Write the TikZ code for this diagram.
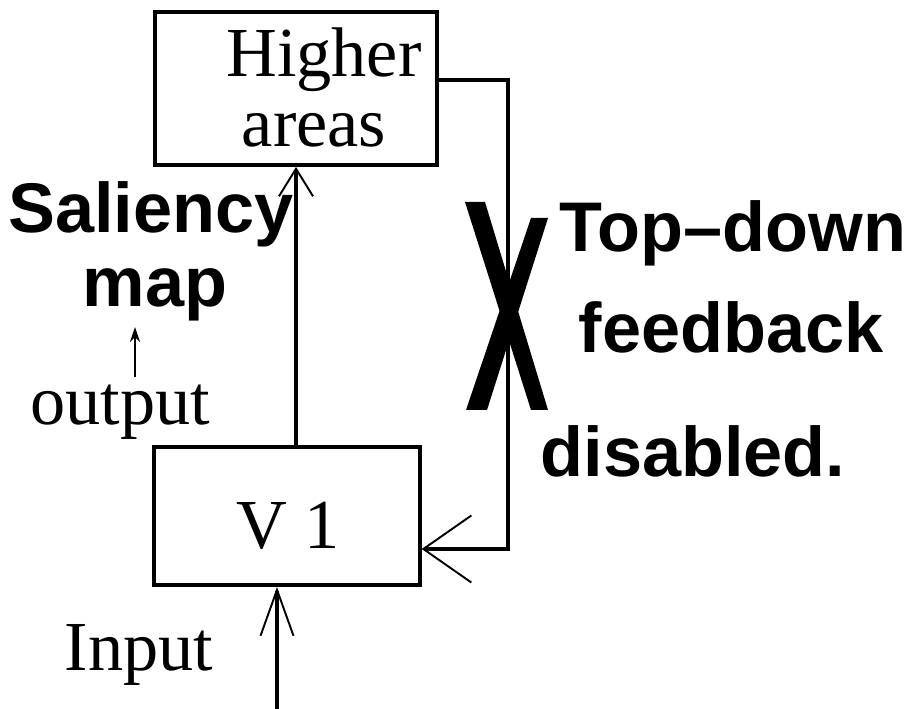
\documentclass[tikz,border=0pt]{standalone}
\usepackage{fontspec}
\setmainfont{Liberation Serif}
\setsansfont{Liberation Sans}
\usetikzlibrary{positioning, arrows.meta, calc}

\begin{document}
\begin{tikzpicture}[
  x=0.02cm, y=-0.02cm,
  every node/.style={inner sep=0pt},
  txt/.style={font=\fontsize{40}{42}\selectfont, anchor=base},
  bold/.style={font=\fontsize{40}{42}\sffamily\bfseries\selectfont, anchor=base},
  area/.style={draw, line width=2.2pt},
  wire/.style={line width=1.8pt},
  barb/.style={wire, -{Straight Barb[length=#1, line width=1.1pt]}}
]
\useasboundingbox (0,0) rectangle (913,709);

% ---------- Boxes ----------
\node[area, minimum width=5.63cm, minimum height=3.06cm] (higher) at (296,88.5) {};
\node[area, minimum width=5.31cm, minimum height=2.76cm] (v1) at (287,516) {};

% ---------- Box texts ----------
\node[txt] (hi) at (324,77) {Higher};
\node[txt] (ar) at (314,147) {areas};
\node[txt] (vone) at (288,548) {V 1};

% ---------- Labels ----------
\node[bold] (sal) at (151,233) {Saliency};
\node[bold] (map) at (155,307) {map};
\node[txt] (out) at (120,425) {output};
\node[txt] (inp) at (139,670) {Input};
\node[bold] (top) at (733,252) {Top--down};
\node[bold] (fdb) at (731,353) {feedback};
\node[bold] (dis) at (693,477) {disabled.};

% ---------- Connectors ----------
% V1 -> Higher areas
\draw[barb={0.55cm, width=0.68cm}] (higher.south |- v1.north) -- (higher.south);
% Input -> V1
\coordinate (src) at (277,709);
\draw[barb={0.92cm, width=0.66cm}] (src) -- (src |- v1.south);
% Higher areas -> V1 (feedback)
\coordinate (fbtop) at (508,80);
\coordinate (fbbot) at (508,549);
\draw[barb={0.96cm, width=1.34cm}] (fbtop -| higher.east) -- (fbtop) -- (fbbot) -- (fbbot -| v1.east);
% output -> Saliency map
\coordinate (otip) at (135,327);
\draw[line width=1.1pt, -{Stealth[length=0.3cm, width=0.2cm]}] (otip |- 0,377) -- (otip);

% ---------- Cross ----------
\fill (465,202) -- (485,202) -- (548,410) -- (531,410) -- cycle;
\fill (531,218) -- (548,218) -- (487,410) -- (466,410) -- cycle;

\end{tikzpicture}
\end{document}
